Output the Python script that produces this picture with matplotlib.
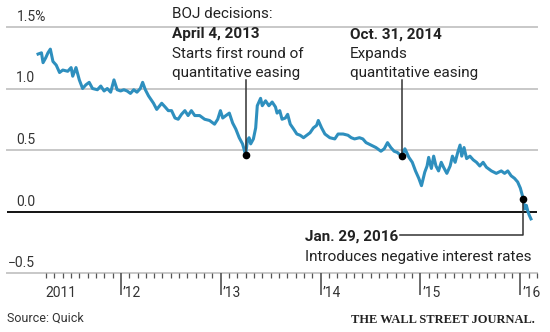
import matplotlib
matplotlib.use('Agg')
import matplotlib.pyplot as plt

# JGB 10-year yield (decimal year, percent)
years = [2011.171, 2011.205, 2011.221, 2011.248, 2011.270, 2011.294, 2011.320, 2011.353,
         2011.386, 2011.419, 2011.468, 2011.502, 2011.518, 2011.551, 2011.584, 2011.617,
         2011.650, 2011.683, 2011.716, 2011.765, 2011.799, 2011.832, 2011.864, 2011.898,
         2011.931, 2011.963, 2011.997, 2012.030, 2012.062, 2012.096, 2012.129, 2012.161,
         2012.195, 2012.218, 2012.245, 2012.277, 2012.327, 2012.359, 2012.409, 2012.443,
         2012.475, 2012.508, 2012.542, 2012.574, 2012.607, 2012.641, 2012.673, 2012.706,
         2012.740, 2012.789, 2012.839, 2012.888, 2012.938, 2012.970, 2012.997, 2013.020,
         2013.052, 2013.086, 2013.119, 2013.151, 2013.185, 2013.218, 2013.250, 2013.267,
         2013.284, 2013.300, 2013.327, 2013.350, 2013.366, 2013.399, 2013.416, 2013.449,
         2013.482, 2013.515, 2013.548, 2013.564, 2013.591, 2013.614, 2013.647, 2013.670,
         2013.696, 2013.730, 2013.762, 2013.795, 2013.829, 2013.861, 2013.894, 2013.928,
         2013.960, 2013.977, 2014.010, 2014.043, 2014.092, 2014.142, 2014.175, 2014.225,
         2014.274, 2014.307, 2014.340, 2014.389, 2014.423, 2014.455, 2014.505, 2014.554,
         2014.604, 2014.637, 2014.670, 2014.703, 2014.736, 2014.769, 2014.809, 2014.844,
         2014.884, 2014.918, 2014.950, 2014.983, 2015.010, 2015.043, 2015.066, 2015.082,
         2015.109, 2015.132, 2015.155, 2015.181, 2015.208, 2015.231, 2015.264, 2015.297,
         2015.320, 2015.347, 2015.373, 2015.396, 2015.413, 2015.436, 2015.462, 2015.495,
         2015.528, 2015.561, 2015.594, 2015.627, 2015.660, 2015.710, 2015.759, 2015.809,
         2015.842, 2015.874, 2015.908, 2015.941, 2015.973, 2016.000, 2016.030, 2016.043,
         2016.060, 2016.076, 2016.089, 2016.106]
yields = [1.28, 1.29, 1.21, 1.25, 1.29, 1.32, 1.22, 1.19,
          1.13, 1.15, 1.14, 1.17, 1.10, 1.17, 1.07, 1.00,
          1.03, 1.05, 1.00, 0.99, 1.02, 0.98, 1.00, 0.97,
          1.07, 0.99, 0.98, 0.99, 0.98, 0.96, 0.99, 0.97,
          1.00, 1.05, 0.99, 0.94, 0.88, 0.83, 0.88, 0.85,
          0.82, 0.82, 0.76, 0.75, 0.79, 0.82, 0.78, 0.82,
          0.78, 0.78, 0.75, 0.74, 0.71, 0.75, 0.82, 0.76,
          0.78, 0.80, 0.72, 0.67, 0.60, 0.55, 0.46, 0.58,
          0.60, 0.55, 0.59, 0.68, 0.86, 0.92, 0.86, 0.90,
          0.86, 0.89, 0.85, 0.80, 0.82, 0.75, 0.76, 0.79,
          0.71, 0.67, 0.63, 0.62, 0.60, 0.62, 0.64, 0.68,
          0.70, 0.74, 0.68, 0.63, 0.60, 0.59, 0.63, 0.63,
          0.62, 0.60, 0.59, 0.60, 0.59, 0.56, 0.54, 0.52,
          0.49, 0.51, 0.56, 0.52, 0.49, 0.48, 0.45, 0.51,
          0.44, 0.40, 0.33, 0.27, 0.21, 0.32, 0.37, 0.44,
          0.35, 0.45, 0.37, 0.33, 0.40, 0.36, 0.31, 0.37,
          0.45, 0.40, 0.48, 0.54, 0.45, 0.52, 0.43, 0.45,
          0.42, 0.40, 0.37, 0.40, 0.36, 0.33, 0.31, 0.33,
          0.31, 0.33, 0.29, 0.27, 0.24, 0.19, 0.10, 0.02,
          0.05, 0.00, -0.03, -0.06]

# BOJ decisions
event_dates = [2013.25, 2014.81, 2016.03]
event_vals = [0.46, 0.45, 0.105]

y_ticks = [1.5, 1.0, 0.5, 0.0, -0.5]
y_labels = ['1.5%', '1.0', '0.5', '0.0', '\u22120.5']
year_ticks = [2012, 2013, 2014, 2015, 2016]
year_labels = ['\u201912', '\u201913', '\u201914', '\u201915', '\u201916']

W, H = 550, 332
sans = ['Roboto', 'DejaVu Sans']
blue = '#2e8fbe'
grid = '#c8c8c8'


def fx(px):
    return px / W


def fy(py):
    return 1 - py / H


fig = plt.figure(figsize=(W / 100, H / 100), dpi=100, facecolor='white')
ax = fig.add_axes([fx(7), fy(273), fx(530), 246 / H])
ax.set_xlim(2010.86, 2016.12)
ax.set_ylim(-0.5, 1.5)
for s in ax.spines.values():
    s.set_visible(False)

# gridlines and zero line
for v in y_ticks:
    if v == 0:
        ax.axhline(v, color='black', lw=1.3, zorder=2)
    else:
        ax.axhline(v, color=grid, lw=1.4, zorder=1, clip_on=False)

# y labels above the gridlines; numbers end at ~35px, the % label starts at ~17px
for v, lab in zip(y_ticks, y_labels):
    pct = lab.endswith('%')
    ax.annotate(lab, xy=(((17 if pct else 35) - 7) / 530, v),
                xycoords=('axes fraction', 'data'),
                xytext=(0, 3), textcoords='offset pixels',
                ha='left' if pct else 'right', va='bottom',
                fontsize=10, family=sans, color='#333333')

# x ticks: months minor, years major
months = [2011 + m / 12 for m in range(3, 63)]
ax.set_xticks(year_ticks)
ax.set_xticks([m for m in months if round(m, 3) not in year_ticks], minor=True)
ax.set_xticklabels([])
ax.tick_params(axis='x', which='major', length=16, width=1.1, color='#444444', direction='out')
ax.tick_params(axis='x', which='minor', length=3.8, width=0.9, color='#555555', direction='out')
ax.set_yticks([])
for yr, lab in zip(year_ticks, year_labels):
    ax.annotate(lab, xy=(yr, 0), xycoords=('data', 'axes fraction'),
                xytext=(2, -24), textcoords='offset pixels', ha='left', va='baseline',
                fontsize=10, family=sans, color='#333333')
ax.annotate('2011', xy=(2011.24, 0), xycoords=('data', 'axes fraction'),
            xytext=(0, -24), textcoords='offset pixels', ha='left', va='baseline',
            fontsize=10, family=sans, color='#333333')

# the yield line
ax.plot(years, yields, color=blue, lw=2.2, zorder=3, solid_joinstyle='round')

# event markers and leader lines
ax.plot(event_dates, event_vals, 'o', color='black', ms=4.5, zorder=5)
for d, v in zip(event_dates[:2], event_vals[:2]):
    ax.plot([d, d], [v, 1.07], color='#333333', lw=1.1, zorder=4)
ax.plot([event_dates[2], event_dates[2], 2014.79], [event_vals[2], -0.19, -0.19],
        color='#333333', lw=1.1, zorder=4, clip_on=False)


# annotation text
def note(x, y, s, bold=False, size=11):
    fig.text(fx(x), fy(y), s, ha='left', va='baseline', fontsize=size, family=sans,
             fontweight='bold' if bold else 'normal', color='#222222')


note(172, 18, 'BOJ decisions:')
note(172, 38, 'April 4, 2013', bold=True)
note(172, 58, 'Starts first round of')
note(172, 77, 'quantitative easing')
note(350, 39, 'Oct. 31, 2014', bold=True)
note(350, 58, 'Expands')
note(350, 77, 'quantitative easing')
note(305, 241, 'Jan. 29, 2016', bold=True)
note(305, 261, 'Introduces negative interest rates')

fig.text(fx(7), fy(322), 'Source: Quick', ha='left', va='baseline', fontsize=9,
         family=sans, color='#333333')
fig.text(fx(535), fy(323), 'THE WALL STREET JOURNAL.', ha='right', va='baseline',
         fontsize=9, family=['Liberation Serif', 'DejaVu Serif'], fontweight='bold',
         color='#222222')

fig.savefig('out.png', dpi=100, facecolor='white')
